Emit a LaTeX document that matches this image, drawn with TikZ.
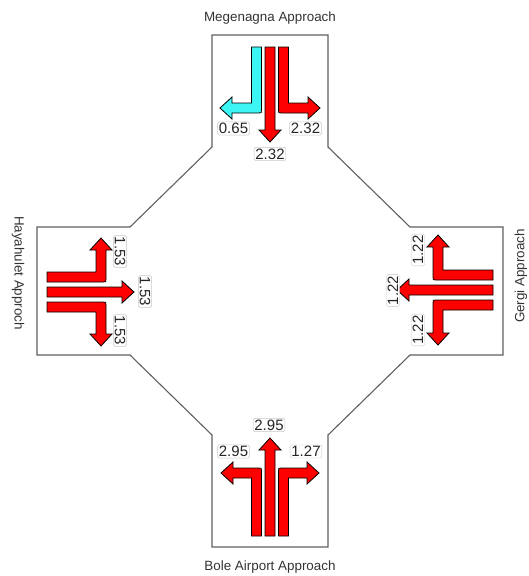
\documentclass[tikz,border=0pt]{standalone}
\usepackage{fontspec}
\setmainfont{Liberation Sans}
\definecolor{laneRed}{RGB}{255,0,0}
\definecolor{laneCyan}{RGB}{60,245,245}
\definecolor{frameGrey}{RGB}{95,95,95}

% fat lane arrows, drawn in a local frame: lane starts at y=0, traffic moves to +y
% straight: centre c, tip e, colour
\newcommand{\laneStraight}[3]{%
  \filldraw[lanearrow,fill=#3] ({#1-5},0) -- ({#1-5},{#2-12}) -- ({#1-11},{#2-12}) -- (#1,#2)
    -- ({#1+11},{#2-12}) -- ({#1+5},{#2-12}) -- ({#1+5},0) -- cycle;}
% turning: centre c, turn depth d, tip t, side s (-1 left, 1 right), colour
\newcommand{\laneTurn}[5]{%
  \filldraw[lanearrow,fill=#5] ({#1-(#4)*5},0) -- ({#1-(#4)*5},{#2+2})
    .. controls ({#1-(#4)*5},{#2+5}) .. ({#1-(#4)*2},{#2+5})
    -- ({#3-(#4)*12},{#2+5}) -- ({#3-(#4)*12},{#2+11}) -- (#3,#2)
    -- ({#3-(#4)*12},{#2-11}) -- ({#3-(#4)*12},{#2-5})
    -- ({#1+(#4)*5},{#2-5}) -- ({#1+(#4)*5},0) -- cycle;}

\tikzset{
  lanearrow/.style={draw=black, line width=0.8pt, line join=miter},
  flowlabel/.style={draw=black!22, fill=white, rounded corners=1.5pt, inner sep=1.3pt,
    text=black!85, font=\fontsize{15}{15}\selectfont},
  approachname/.style={text=black!80, font=\fontsize{13.4}{13.4}\selectfont}
}

\begin{document}
\begin{tikzpicture}[x=1pt,y=-1pt]
  \useasboundingbox (0,0) rectangle (528,576);

  % junction outline
  \draw[frameGrey, line width=1.1pt] (212,35) -- (328,35) -- (328,147) -- (410,227) -- (503,227)
    -- (503,355) -- (410,355) -- (328,435) -- (328,547) -- (212,547) -- (212,435)
    -- (130,355) -- (37,355) -- (37,227) -- (130,227) -- (212,147) -- cycle;

  % Megenagna
  \begin{scope}[shift={(270,47)}]
    \laneTurn{-13.5}{61}{-50}{-1}{laneCyan}
    \laneStraight{0}{95}{laneRed}
    \laneTurn{13.5}{61}{50}{1}{laneRed}
  \end{scope}
  % Bole Airport
  \begin{scope}[shift={(270,536)},rotate=180]
    \laneTurn{-13.5}{63}{-49}{-1}{laneRed}
    \laneStraight{0}{98}{laneRed}
    \laneTurn{13.5}{63}{49}{1}{laneRed}
  \end{scope}
  % Hayahulet
  \begin{scope}[shift={(47,292)},rotate=90]
    \laneTurn{-15}{54}{-54}{-1}{laneRed}
    \laneStraight{0}{87}{laneRed}
    \laneTurn{15}{54}{54}{1}{laneRed}
  \end{scope}
  % Gergi
  \begin{scope}[shift={(493,290)},rotate=-90]
    \laneTurn{-15}{55}{-55}{-1}{laneRed}
    \laneStraight{0}{96}{laneRed}
    \laneTurn{15}{55}{55}{1}{laneRed}
  \end{scope}

  % flow labels
  \node[flowlabel] (megL) at (233.5,128.5) {0.65};
  \node[flowlabel] (megR) at (305.5,128.5) {2.32};
  \node[flowlabel] (megT) at (270,154) {2.32};
  \node[flowlabel] (boleL) at (233.5,451.5) {2.95};
  \node[flowlabel] (boleT) at (269,425) {2.95};
  \node[flowlabel] (boleR) at (306,451.5) {1.27};
  \node[flowlabel,rotate=-90] (hayL) at (120,251.5) {1.53};
  \node[flowlabel,rotate=-90] (hayT) at (145,291.5) {1.53};
  \node[flowlabel,rotate=-90] (hayR) at (120,330.5) {1.53};
  \node[flowlabel,rotate=90] (gerR) at (418,250) {1.22};
  \node[flowlabel,rotate=90] (gerT) at (393,290.5) {1.22};
  \node[flowlabel,rotate=90] (gerL) at (418,330) {1.22};

  % approach names
  \node[approachname] (megName) at (270,18) {Megenagna Approach};
  \node[approachname] (boleName) at (270,567) {Bole Airport Approach};
  \node[approachname,rotate=-90] (hayName) at (18,273) {Hayahulet Approch};
  \node[approachname,rotate=90] (gerName) at (521,276) {Gergi Approach};
\end{tikzpicture}
\end{document}
